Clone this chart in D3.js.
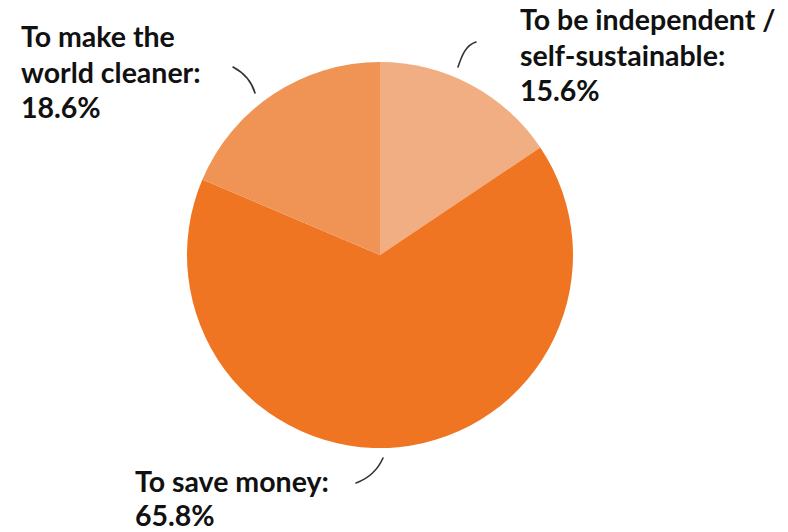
<!DOCTYPE html>
<html>
<head>
<meta charset="utf-8">
<script src="https://cdn.jsdelivr.net/npm/d3@7/dist/d3.min.js"></script>
<style>
  html, body { margin: 0; padding: 0; background: #ffffff; }
  svg { display: block; }
  .lbl { font-family: Lato, "Open Sans", sans-serif; font-weight: 700; font-size: 28.5px; fill: #111; }
</style>
</head>
<body>
<script>
// Reasons for the choice, share of respondents (%)
const categories = ["To be independent / self-sustainable", "To save money", "To make the world cleaner"];
const values = [15.6, 65.8, 18.6];
const colors = ["#f0ae82", "#f07522", "#f09455"];
const labelLines = [
  ["To be independent /", "self-sustainable:", "15.6%"],
  ["To save money:", "65.8%"],
  ["To make the", "world cleaner:", "18.6%"]
];

const W = 788, H = 532;
const cx = 380, cy = 255, R = 193;

const svg = d3.select("body").append("svg").attr("width", W).attr("height", H);

const pie = d3.pie().sort(null).value(d => d);
const arcs = pie(values);
const arc = d3.arc().innerRadius(0).outerRadius(R);

const g = svg.append("g").attr("transform", `translate(${cx},${cy})`);
g.selectAll("path.slice")
  .data(arcs)
  .join("path")
  .attr("class", "slice")
  .attr("d", arc)
  .attr("fill", (d, i) => colors[i]);

// Label blocks: first baseline position and line gap for each slice
const labelPos = [
  { x: 520, y: 30, gap: 35.5 },
  { x: 135, y: 492, gap: 33.5 },
  { x: 21, y: 47, gap: 35.5 }
];

labelLines.forEach((lines, i) => {
  const p = labelPos[i];
  const t = svg.append("text").attr("class", "lbl").attr("x", p.x).attr("y", p.y);
  lines.forEach((s, j) => {
    t.append("tspan").attr("x", p.x).attr("dy", j === 0 ? 0 : p.gap).text(s);
  });
});

// Hand-drawn style leader strokes next to each slice
const leaders = [
  "M458,67 C462,55 466,45 476,42",
  "M356,483 Q375,476 383,458",
  "M233,67 Q250,76 255,93"
];
svg.selectAll("path.leader")
  .data(leaders)
  .join("path")
  .attr("class", "leader")
  .attr("d", d => d)
  .attr("fill", "none")
  .attr("stroke", "#333")
  .attr("stroke-width", 1.6)
  .attr("stroke-linecap", "round");
</script>
</body>
</html>
